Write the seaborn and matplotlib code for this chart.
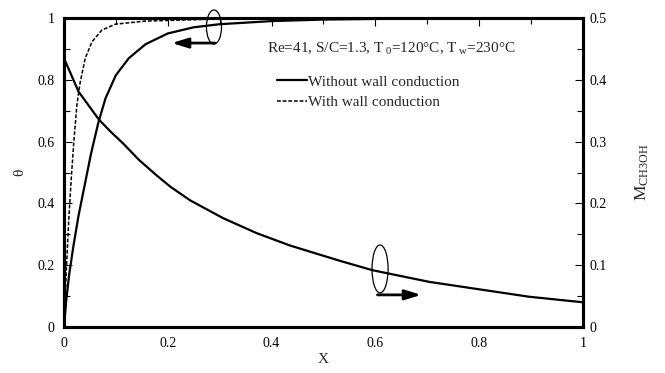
import numpy as np
import pandas as pd
import seaborn as sns
import matplotlib.pyplot as plt
from matplotlib.patches import Ellipse
from matplotlib.ticker import MultipleLocator

sns.set_theme(style="white")
plt.rcParams['font.family'] = ['Liberation Serif', 'DejaVu Serif']
plt.rcParams['mathtext.fontset'] = 'custom'
plt.rcParams['mathtext.rm'] = 'Liberation Serif'
plt.rcParams['mathtext.it'] = 'Liberation Serif:italic'

# theta, without wall conduction (solid)
x_wo = [0.0, 0.004, 0.01, 0.018, 0.028, 0.04, 0.052, 0.066, 0.08, 0.10, 0.125, 0.157,
        0.20, 0.25, 0.30, 0.40, 0.50, 0.70, 1.0]
th_wo = [0.0, 0.08, 0.17, 0.26, 0.36, 0.46, 0.56, 0.66, 0.74, 0.815, 0.87, 0.915,
         0.95, 0.97, 0.98, 0.99, 0.995, 0.999, 1.0]

# theta, with wall conduction (dashed)
x_w = [0.0, 0.002, 0.005, 0.009, 0.014, 0.019, 0.025, 0.031, 0.041, 0.054, 0.073, 0.099,
       0.156, 0.30, 0.50, 1.0]
th_w = [0.0, 0.09, 0.20, 0.34, 0.48, 0.60, 0.72, 0.79, 0.87, 0.923, 0.961, 0.98,
        0.99, 0.997, 1.0, 1.0]

# methanol mass fraction (right axis)
x_m = [0.0, 0.028, 0.067, 0.090, 0.114, 0.145, 0.179, 0.205, 0.243, 0.307, 0.371, 0.435,
       0.532, 0.594, 0.704, 0.80, 0.896, 1.0]
m_ch3oh = [0.435, 0.381, 0.336, 0.316, 0.297, 0.270, 0.245, 0.227, 0.205, 0.176, 0.152,
           0.132, 0.107, 0.092, 0.073, 0.061, 0.049, 0.040]

fig = plt.figure(figsize=(6.65, 3.73), dpi=100)
ax = fig.add_axes([0.0962, 0.1233, 0.7805, 0.8284])
ax2 = ax.twinx()

df_wo = pd.DataFrame({"X": x_wo, "theta": th_wo})
df_w = pd.DataFrame({"X": x_w, "theta": th_w})
df_m = pd.DataFrame({"X": x_m, "M": m_ch3oh})

sns.lineplot(data=df_wo, x="X", y="theta", ax=ax, color="black", lw=1.6,
             label="Without wall conduction", legend=False)
sns.lineplot(data=df_w, x="X", y="theta", ax=ax, color="black", lw=1.1,
             dashes=False, linestyle=(0, (2.5, 1.2)), label="With wall conduction", legend=False)
sns.lineplot(data=df_m, x="X", y="M", ax=ax2, color="black", lw=1.6, legend=False)

ax.set_xlim(0, 1)
ax.set_ylim(0, 1)
ax2.set_ylim(0, 0.5)

ax.xaxis.set_major_locator(MultipleLocator(0.2))
ax.xaxis.set_minor_locator(MultipleLocator(0.1))
ax.yaxis.set_major_locator(MultipleLocator(0.2))
ax.yaxis.set_minor_locator(MultipleLocator(0.1))
ax2.yaxis.set_major_locator(MultipleLocator(0.1))
ax2.yaxis.set_minor_locator(MultipleLocator(0.05))

fmt = lambda v, p: ("%g" % v)
ax.xaxis.set_major_formatter(plt.FuncFormatter(fmt))
ax.yaxis.set_major_formatter(plt.FuncFormatter(fmt))
ax2.yaxis.set_major_formatter(plt.FuncFormatter(fmt))

for a in (ax, ax2):
    for s in a.spines.values():
        s.set_linewidth(2.2)
        s.set_color("black")
ax.tick_params(which="both", direction="in", top=True, right=False, colors="black",
               labelsize=10, pad=7)
ax.tick_params(which="major", length=6, width=0.8)
ax.tick_params(which="minor", length=4, width=0.8)
ax2.tick_params(which="both", direction="in", labelsize=10, pad=5, colors="black")
ax2.tick_params(which="major", length=6, width=0.8)
ax2.tick_params(which="minor", length=4, width=0.8)

ax.set_xlabel("X", fontsize=11, labelpad=2)
ax.set_ylabel("θ", fontsize=11, labelpad=8)
ax2.set_ylabel(r"M$_{\mathrm{CH3OH}}$", fontsize=12.5, labelpad=19)

# annotations: ellipses and arrows
ax.add_patch(Ellipse((0.289, 0.971), 0.029, 0.11, fill=False, lw=0.9, color="black", clip_on=False))
ax.annotate("", xy=(0.208, 0.919), xytext=(0.291, 0.919),
            arrowprops=dict(arrowstyle="-|>,head_length=0.8,head_width=0.25", lw=2, color="black",
                            shrinkA=0, shrinkB=0))
ax.add_patch(Ellipse((0.609, 0.188), 0.031, 0.155, fill=False, lw=0.9, color="black"))
ax.annotate("", xy=(0.688, 0.104), xytext=(0.604, 0.104),
            arrowprops=dict(arrowstyle="-|>,head_length=0.8,head_width=0.25", lw=2, color="black",
                            shrinkA=0, shrinkB=0))

ax.text(0.391, 0.9, r"Re=41, S/C=1.3, T$_{\ 0}$=120°C, T$_{\ \mathrm{w}}$=230°C",
        fontsize=11, va="center", ha="left")

ax.legend(loc="upper left", bbox_to_anchor=(0.398, 0.835), frameon=False, fontsize=11,
          handlelength=2.0, handletextpad=0.05, labelspacing=0.45, borderaxespad=0)

fig.savefig("out.png", dpi=100)
